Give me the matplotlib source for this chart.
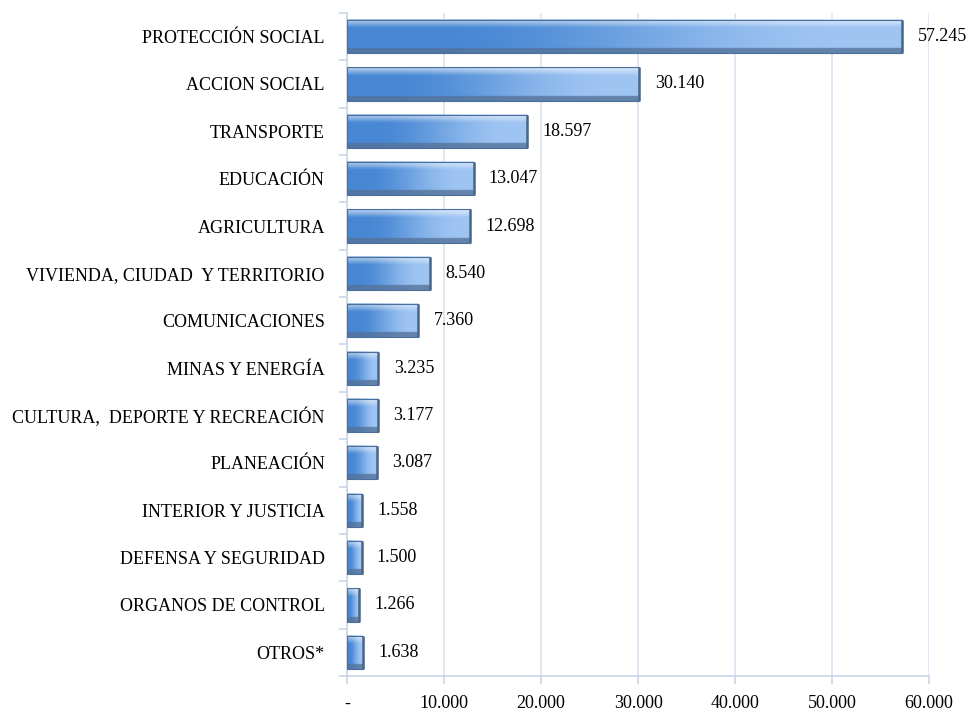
import matplotlib
matplotlib.use('Agg')
import matplotlib.pyplot as plt
import numpy as np

categorias = ['PROTECCIÓN SOCIAL', 'ACCION SOCIAL', 'TRANSPORTE', 'EDUCACIÓN',
              'AGRICULTURA', 'VIVIENDA, CIUDAD  Y TERRITORIO', 'COMUNICACIONES',
              'MINAS Y ENERGÍA', 'CULTURA,  DEPORTE Y RECREACIÓN', 'PLANEACIÓN',
              'INTERIOR Y JUSTICIA', 'DEFENSA Y SEGURIDAD', 'ORGANOS DE CONTROL', 'OTROS*']
valores = [57245, 30140, 18597, 13047, 12698, 8540, 7360, 3235, 3177, 3087, 1558, 1500, 1266, 1638]
ticks_x = [0, 10000, 20000, 30000, 40000, 50000, 60000]


def miles(v):
    # formato con punto como separador de miles
    if v == 0:
        return '-'
    return '{:,}'.format(int(v)).replace(',', '.')


def bar_image(nx=200, ny=60):
    # gradiente horizontal: azul oscuro a la izquierda, claro a la derecha
    dark = np.array([0.28, 0.53, 0.83])
    light = np.array([0.62, 0.77, 0.95])
    t = np.linspace(0, 1, nx)
    t = np.clip((t - 0.15) / 0.75, 0, 1)
    t = t * t * (3 - 2 * t)
    base = dark[None, :] * (1 - t[:, None]) + light[None, :] * t[:, None]
    img = np.repeat(base[None, :, :], ny, axis=0)
    r = np.linspace(0, 1, ny)
    white = np.array([1.0, 1.0, 1.0])
    shadow = np.array([0.33, 0.45, 0.60])
    for i, rv in enumerate(r):
        if rv < 0.08:
            img[i] = img[i] * 0.5 + white * 0.5
        elif rv < 0.25:
            k = 0.45 * (0.25 - rv) / 0.17
            img[i] = img[i] * (1 - k) + white * k
        elif rv > 0.86:
            img[i] = img[i] * 0.2 + shadow * 0.8
    return img


fig = plt.figure(figsize=(9.79, 7.18), dpi=100)
ax = fig.add_axes([0.3545, 0.0585, 0.5945, 0.9235])

n = len(categorias)
pos = np.arange(n)[::-1]
h = 0.7
img = bar_image()
for y, v in zip(pos, valores):
    ax.imshow(img, extent=(0, v, y - h / 2, y + h / 2), aspect='auto',
              origin='upper', interpolation='bilinear', zorder=3)
    ax.add_patch(plt.Rectangle((0, y - h / 2), v, h, fill=False,
                               edgecolor='#4a6f9c', linewidth=0.8, zorder=4))
    # borde derecho oscuro
    ax.plot([v, v], [y - h / 2, y + h / 2], color='#4d6585', linewidth=1.8,
            solid_capstyle='butt', zorder=5)
    ax.annotate(miles(v), xy=(v, y), xytext=(11, 0), textcoords='offset points',
                ha='left', va='center', fontsize=13, family='Liberation Serif',
                color='black')

ax.set_xlim(0, 60000)
ax.set_ylim(-0.5, n - 0.5)
ax.set_yticks(pos)
ax.set_yticklabels(categorias, fontsize=13, family='Liberation Serif')
ax.set_yticks(np.arange(n + 1) - 0.5, minor=True)
ax.set_xticks(ticks_x)
ax.set_xticklabels([miles(v) for v in ticks_x], fontsize=13, family='Liberation Serif')

ax.grid(axis='x', color='#dbe3ee', linewidth=1.2, zorder=0)
ax.set_axisbelow(True)
for s in ['top', 'right']:
    ax.spines[s].set_visible(False)
ax.spines['left'].set_color('#c9d5e6')
ax.spines['bottom'].set_color('#c9d5e6')
ax.spines['left'].set_linewidth(1.2)
ax.spines['bottom'].set_linewidth(1.2)
ax.tick_params(axis='y', which='major', length=0, pad=16)
ax.tick_params(axis='y', which='minor', length=6, color='#c9d5e6', width=1.2)
ax.tick_params(axis='x', length=6, color='#c9d5e6', width=1.2, pad=8)

fig.savefig('out.png', dpi=100)
